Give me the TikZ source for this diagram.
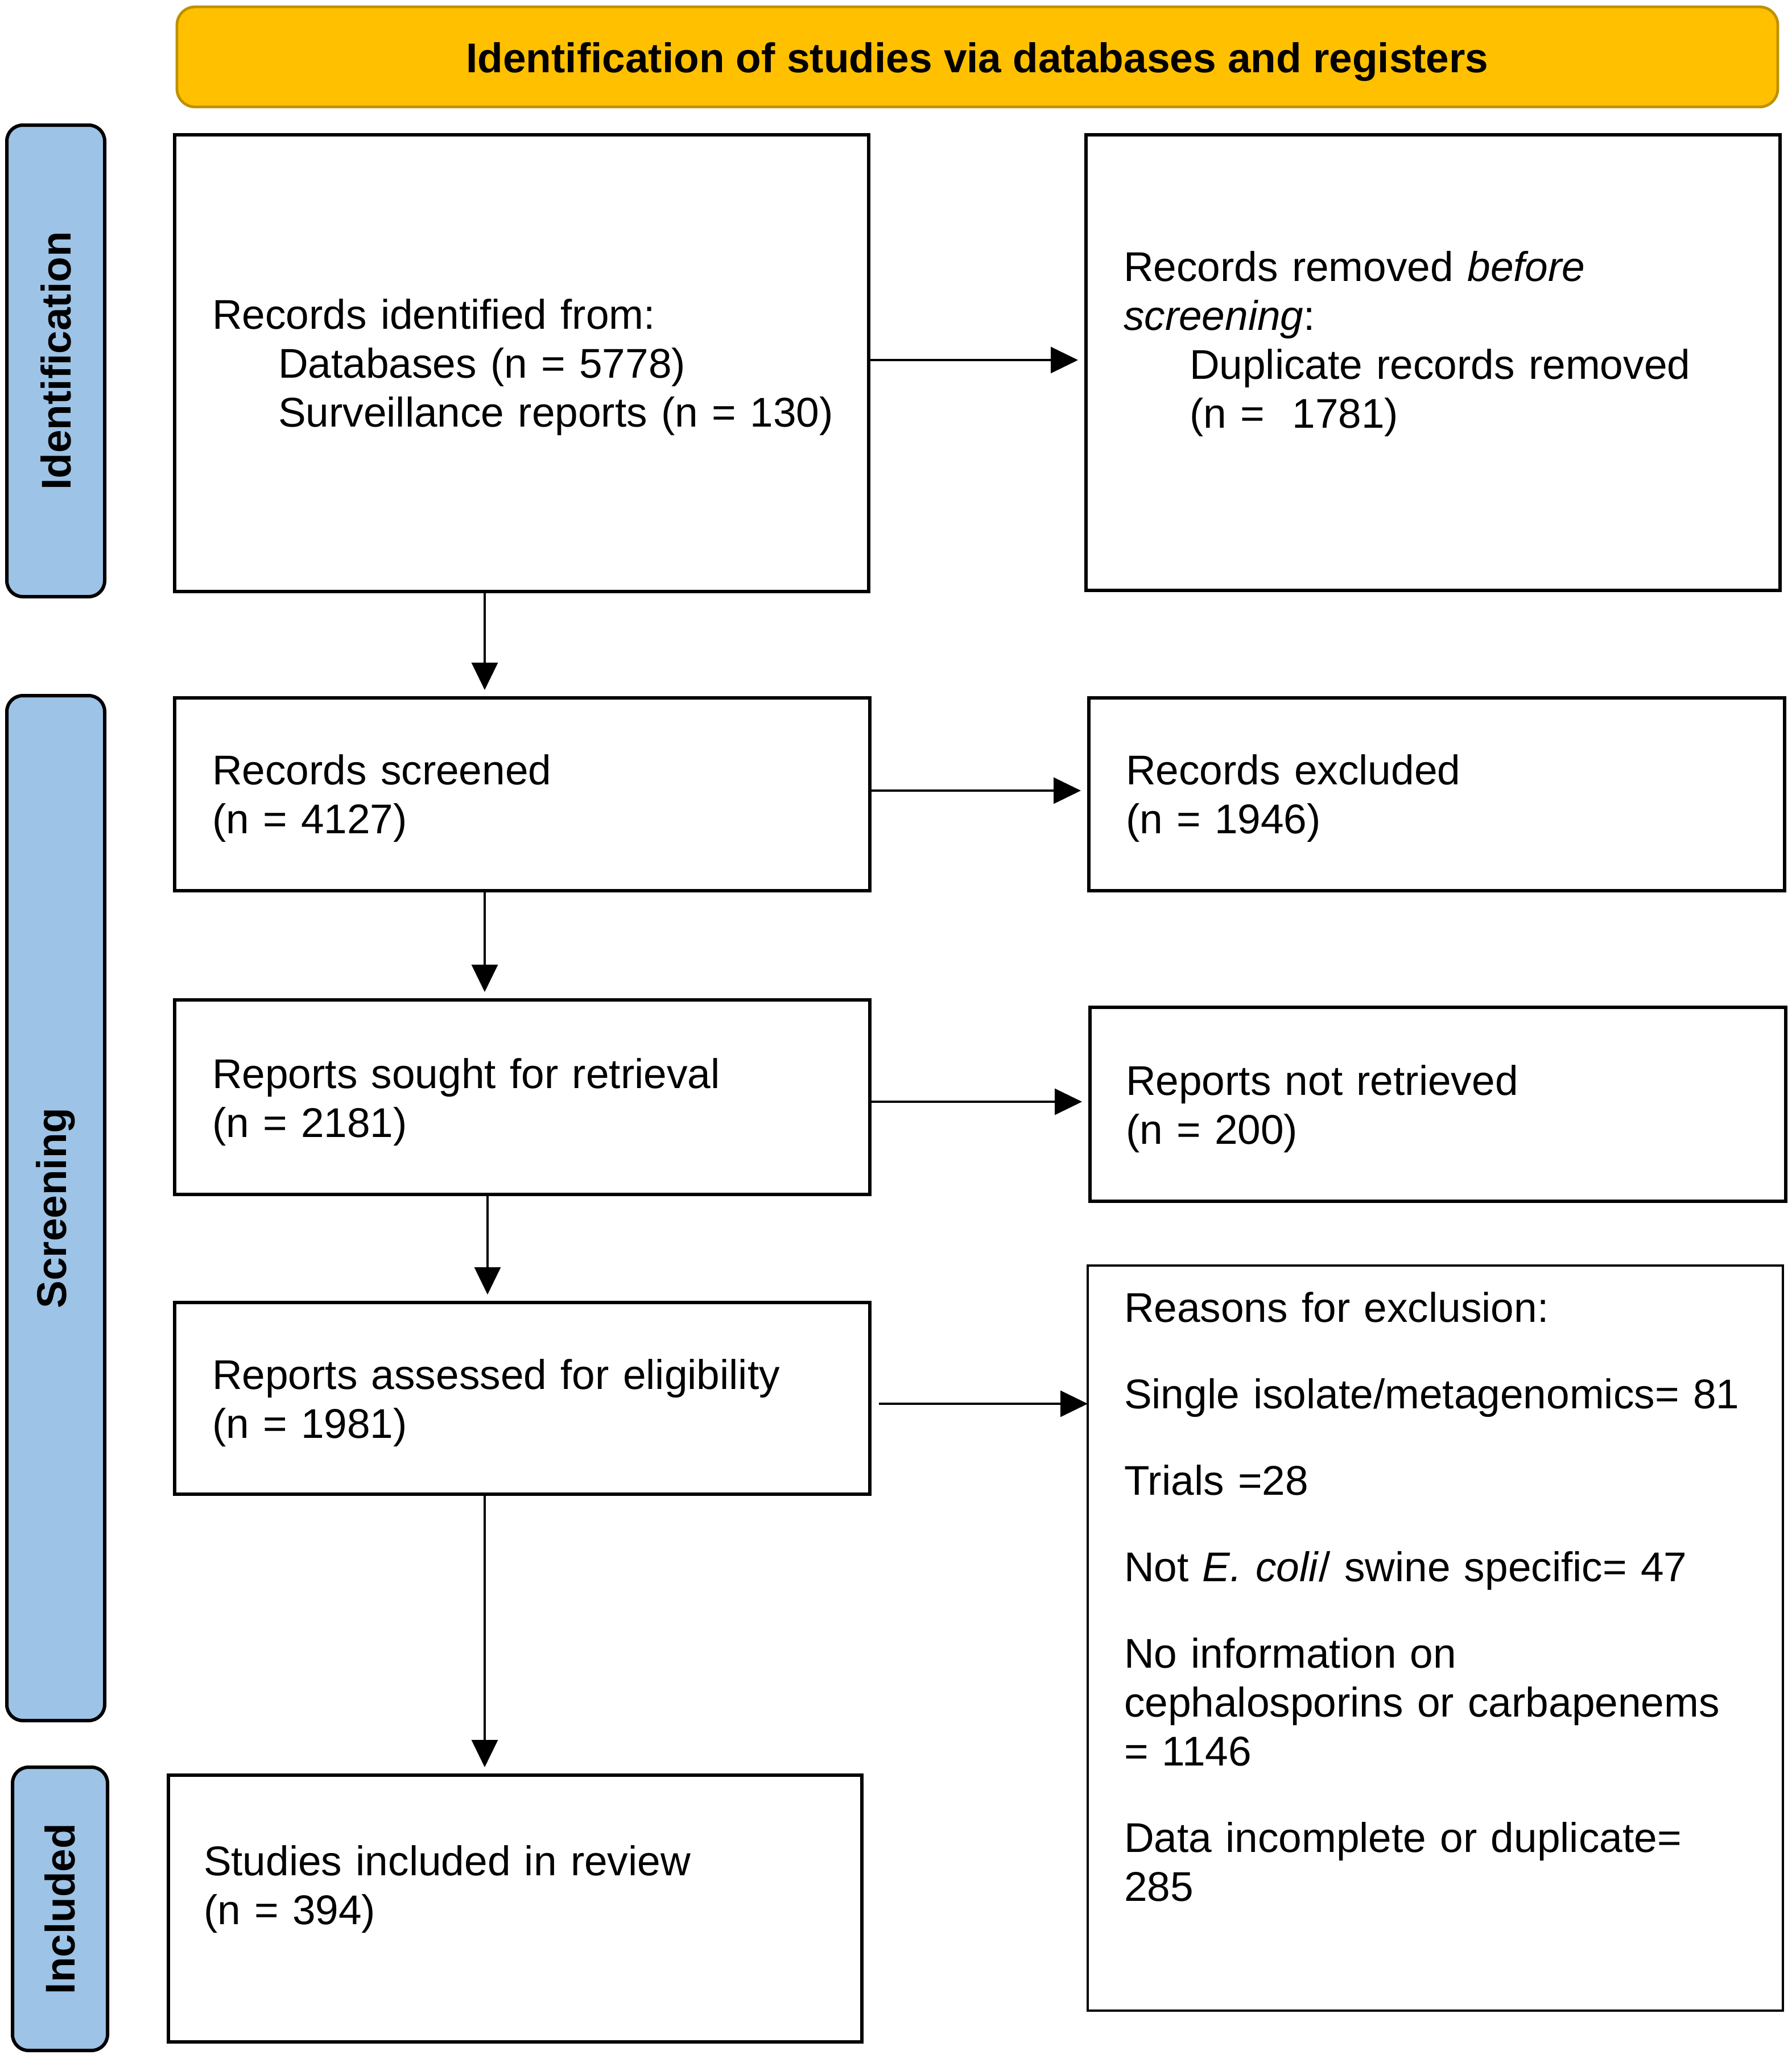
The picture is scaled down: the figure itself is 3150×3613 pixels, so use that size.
\documentclass[tikz,border=0pt]{standalone}
\usepackage{fontspec}
\setmainfont{Liberation Sans}
\usetikzlibrary{arrows.meta}
\definecolor{hdrfill}{HTML}{FFC000}
\definecolor{hdrdraw}{HTML}{BF9000}
\definecolor{lblfill}{HTML}{9DC3E6}
\begin{document}
\begin{tikzpicture}[x=0.25pt,y=-0.25pt,
  every node/.style={inner sep=0pt, outer sep=0pt},
  box/.style={draw=black, line width=1.5pt, fill=white, rectangle},
  thinbox/.style={draw=black, line width=0.8pt, fill=white, rectangle},
  phase/.style={draw=black, line width=1.5pt, fill=lblfill, rounded corners=7pt, rotate=90,
    font=\fontsize{18.25pt}{21.5pt}\selectfont\bfseries},
  header/.style={draw=hdrdraw, line width=1.2pt, fill=hdrfill, rounded corners=8pt,
    font=\fontsize{18.25pt}{21.5pt}\selectfont\bfseries},
  txt/.style={anchor=base west, text width=300pt, align=left,
    font=\fontsize{18.25pt}{21.5pt}\selectfont},
  arr/.style={draw=black, line width=0.8pt, -{Triangle[length=12pt,width=11.5pt]}, shorten >=3.5pt}
]
\useasboundingbox (0,0) rectangle (3150,3613);
\fill[white] (0,0) rectangle (3150,3613);

% header
\node[header, minimum width=703.5pt, minimum height=44pt] (hdr) at (1718,100) {};
\node[font=\fontsize{18.25pt}{21.5pt}\selectfont\bfseries, anchor=base] (hdrtxt) at (1718,127)
  {Identification of studies via databases and registers};

% phase labels
\node[phase, minimum width=207.25pt, minimum height=43pt] (pid) at (98,634.5) {Identification};
\node[phase, minimum width=450.5pt, minimum height=43pt] (pscr) at (98,2124) {Screening};
\node[phase, minimum width=124.5pt, minimum height=41.75pt] (pinc) at (105.5,3356) {Included};

% boxes
\node[box, minimum width=305pt, minimum height=200.75pt] (B1) at (917,638.5) {};
\node[box, minimum width=305pt, minimum height=200.25pt] (B2) at (2519,637.5) {};
\node[box, minimum width=305.5pt, minimum height=84.75pt] (B3) at (918,1396.5) {};
\node[box, minimum width=305.75pt, minimum height=84.75pt] (B4) at (2525.5,1396.5) {};
\node[box, minimum width=305.5pt, minimum height=85.5pt] (B5) at (918,1929) {};
\node[box, minimum width=305.75pt, minimum height=85.25pt] (B6) at (2527.5,1941.5) {};
\node[box, minimum width=305.5pt, minimum height=84.25pt] (B7) at (918,2458.5) {};
\node[thinbox, minimum width=305.5pt, minimum height=327.5pt] (B8) at (2523,2880) {};
\node[box, minimum width=304.75pt, minimum height=117.25pt] (B9) at (905.5,3355.5) {};

% texts
\node[txt] (T1) at (373,578) {Records identified from:\\
  \hspace*{29pt}Databases (n = 5778)\\
  \hspace*{29pt}Surveillance reports (n = 130)};
\node[txt] (T2) at (1975,494) {Records removed \textit{before}\\
  \textit{screening}:\\
  \hspace*{29pt}Duplicate records removed\\
  \hspace*{29pt}(n =\ \ 1781)};
\node[txt] (T3) at (373,1379) {Records screened\\(n = 4127)};
\node[txt] (T4) at (1979,1379) {Records excluded\\(n = 1946)};
\node[txt] (T5) at (373,1913) {Reports sought for retrieval\\(n = 2181)};
\node[txt] (T6) at (1979,1925) {Reports not retrieved\\(n = 200)};
\node[txt] (T7) at (373,2442) {Reports assessed for eligibility\\(n = 1981)};
\node[txt, text width=290pt] (T8) at (1976,2324) {Reasons for exclusion:\\[16.5pt]
  Single isolate/metagenomics= 81\\[16.5pt]
  Trials =28\\[16.5pt]
  Not \textit{E. coli}/ swine specific= 47\\[16.5pt]
  No information on\\
  cephalosporins or carbapenems\\
  = 1146\\[16.5pt]
  Data incomplete or duplicate=\\
  285};
\node[txt] (T9) at (358,3297) {Studies included in review\\(n = 394)};

% connectors
\coordinate (cxa) at (852,0);
\coordinate (cxb) at (857,0);
\coordinate (ya) at (0,633);
\coordinate (yb) at (0,1390);
\coordinate (yc) at (0,1937);
\coordinate (yd) at (0,2468);
\draw[arr] (B1.south -| cxa) -- (B3.north -| cxa);
\draw[arr] (B3.south -| cxa) -- (B5.north -| cxa);
\draw[arr] (B5.south -| cxb) -- (B7.north -| cxb);
\draw[arr] (B7.south -| cxa) -- (B9.north -| cxa);
\draw[arr] (B1.east |- ya) -- (B2.west |- ya);
\draw[arr] (B3.east |- yb) -- (B4.west |- yb);
\draw[arr] (B5.east |- yc) -- (B6.west |- yc);
\draw[arr, shorten >=0pt, shorten <=4pt] (B7.east |- yd) -- (B8.west |- yd);
\end{tikzpicture}
\end{document}
